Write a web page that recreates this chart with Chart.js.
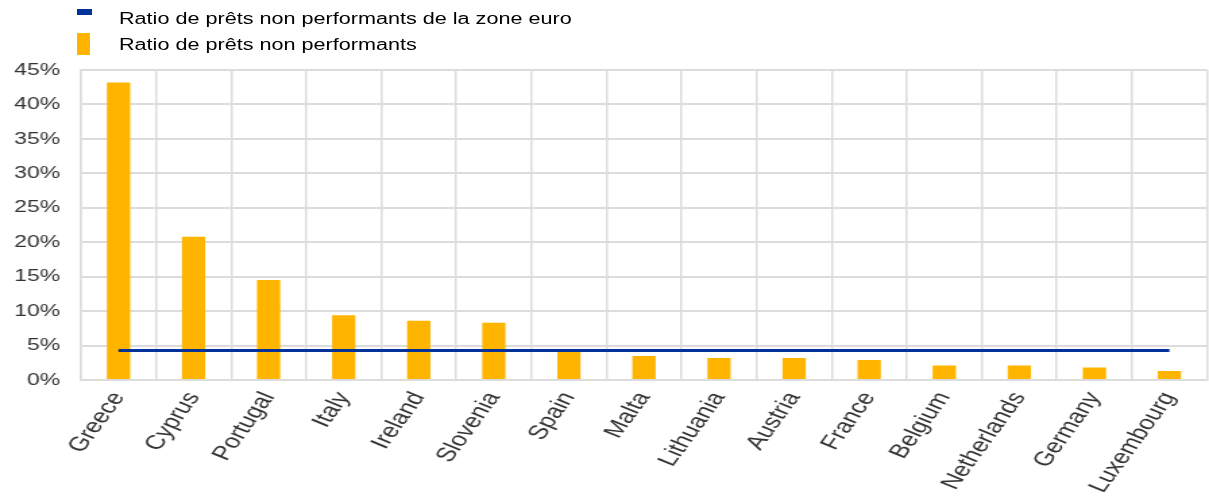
<!DOCTYPE html>
<html>
<head>
<meta charset="utf-8">
<script src="https://cdn.jsdelivr.net/npm/chart.js@4"></script>
<style>
  html, body { margin: 0; padding: 0; background: #fff; }
  #wrap { position: relative; width: 1209px; height: 504px; overflow: hidden; }
  #c { position: absolute; left: 0; top: 0; width: 1209px; height: 504px; }
  #legend { position: absolute; left: 0; top: 0; width: 1209px; height: 60px; font-family: "Liberation Sans", Arial, sans-serif; font-size: 16px; color: #000; }
  .item { position: absolute; left: 119px; white-space: nowrap; line-height: 18px; transform: scaleX(1.35); transform-origin: 0 0; }
  .mk { position: absolute; }
</style>
</head>
<body>
<div id="wrap">
  <canvas id="c" width="896" height="504" style="width:1209px;height:504px"></canvas>
  <div id="legend"></div>
</div>
<script>
const categories = ["Greece", "Cyprus", "Portugal", "Italy", "Ireland", "Slovenia", "Spain", "Malta", "Lithuania", "Austria", "France", "Belgium", "Netherlands", "Germany", "Luxembourg"];
const nplRatio = [43.2, 20.8, 14.5, 9.4, 8.6, 8.3, 4.2, 3.5, 3.2, 3.2, 2.9, 2.1, 2.1, 1.8, 1.3];
const euroAreaRatio = [4.3, 4.3, 4.3, 4.3, 4.3, 4.3, 4.3, 4.3, 4.3, 4.3, 4.3, 4.3, 4.3, 4.3, 4.3];
const seriesLabels = ["Ratio de prêts non performants de la zone euro", "Ratio de prêts non performants"];
const yTicks = [0, 5, 10, 15, 20, 25, 30, 35, 40, 45];

const BLUE = "#003299";
const YELLOW = "#FFB400";
const GRID = "#dcdcdc";
const FONT = "'Liberation Sans', Arial, sans-serif";

const chart = new Chart(document.getElementById("c"), {
  data: {
    labels: categories,
    datasets: [
      { type: "line", label: seriesLabels[0], data: euroAreaRatio, borderColor: BLUE, backgroundColor: BLUE,
        borderWidth: 3, pointRadius: 0, pointHoverRadius: 0, tension: 0, order: 0 },
      { type: "bar", label: seriesLabels[1], data: nplRatio, backgroundColor: YELLOW, borderWidth: 0,
        categoryPercentage: 1, barPercentage: 0.31, order: 1 }
    ]
  },
  options: {
    responsive: false,
    maintainAspectRatio: false,
    animation: false,
    devicePixelRatio: 1,
    layout: { padding: { top: 70, left: 0, right: 1.5, bottom: 0 } },
    plugins: { legend: { display: false }, tooltip: { enabled: false } },
    scales: {
      x: {
        grid: { color: GRID, lineWidth: 1.5, drawTicks: false, offset: true },
        border: { color: GRID, width: 2 },
        ticks: { minRotation: 61, maxRotation: 61, autoSkip: false, padding: 8,
          color: "#333", font: { family: FONT, size: 20 } },
        afterFit: s => { s.height = 124; s.paddingLeft = 0; s.paddingRight = 0; }
      },
      y: {
        min: 0, max: 45,
        afterBuildTicks: s => { s.ticks = yTicks.map(v => ({ value: v })); },
        grid: { color: GRID, lineWidth: 2, drawTicks: false },
        border: { color: GRID, width: 1.5 },
        ticks: { padding: 15.5, color: "#333", font: { family: FONT, size: 17 }, callback: v => v + "%" },
        afterFit: s => { s.width = 60; }
      }
    }
  }
});

// HTML legend from dataset definitions
const legend = document.getElementById("legend");
const rows = [
  { ds: chart.data.datasets[0], top: 10, mk: { left: 77, top: 9, w: 15, h: 6 } },
  { ds: chart.data.datasets[1], top: 36, mk: { left: 77, top: 33, w: 13, h: 22 } }
];
rows.forEach(r => {
  const m = document.createElement("div");
  m.className = "mk";
  m.style.left = r.mk.left + "px"; m.style.top = r.mk.top + "px";
  m.style.width = r.mk.w + "px"; m.style.height = r.mk.h + "px";
  m.style.background = r.ds.type === "line" ? r.ds.borderColor : r.ds.backgroundColor;
  legend.appendChild(m);
  const t = document.createElement("div");
  t.className = "item";
  t.style.top = r.top + "px";
  t.textContent = r.ds.label;
  legend.appendChild(t);
});
</script>
</body>
</html>
